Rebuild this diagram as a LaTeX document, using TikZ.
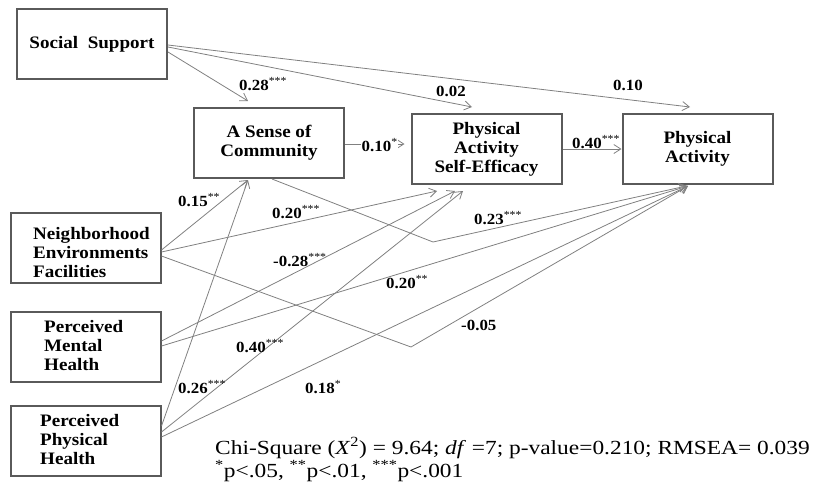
\documentclass[tikz,border=0pt]{standalone}
\usepackage{fontspec}
\setmainfont{Liberation Serif}[FakeStretch=1.09]
\newfontfamily\notefont{Liberation Serif}[FakeStretch=1.17]
\usetikzlibrary{arrows.meta,calc}
\definecolor{boxgray}{HTML}{5A5A5A}
\definecolor{linegray}{HTML}{808080}
\tikzset{
  box/.style={draw=boxgray, line width=2pt, minimum width=150pt, minimum height=70pt,
    inner sep=0pt, font=\fontsize{17.5}{19}\selectfont\bfseries, align=center},
  boxtext/.style={font=\fontsize{17.5}{19}\selectfont\bfseries, align=left, inner sep=0pt, anchor=west},
  arr/.style={draw=linegray, line width=0.8pt, -{Straight Barb[length=7pt,width=9pt]}},
  lbl/.style={font=\fontsize{15.5}{16}\selectfont\bfseries, inner sep=0pt, anchor=base west},
  note/.style={font=\notefont\fontsize{20}{22}\selectfont, inner sep=0pt, anchor=base west},
}
\newcommand{\stars}[1]{\textsuperscript{\mdseries #1}}
\begin{document}
\begin{tikzpicture}[x=1pt,y=-1pt]
\useasboundingbox (0,0) rectangle (823,485);
% boxes
\node[box] (ss) at (92,44) {Social\ \ Support};
\node[box] (asc) at (269,143) {A Sense of\\Community};
\node[box] (pase) at (486.5,149) {Physical\\Activity\\Self-Efficacy};
\node[box] (pa) at (697.5,149) {Physical\\Activity};
\node[box] (nef) at (85.5,248) {};
\node[boxtext] (neft) at (33,252.5) {Neighborhood\\Environments\\Facilities};
\node[box] (pmh) at (85.5,347) {};
\node[boxtext] (pmht) at (44,346) {Perceived\\Mental\\Health};
\node[box] (pph) at (85.5,440.5) {};
\node[boxtext] (ppht) at (40,439.5) {Perceived\\Physical\\Health};
% bend points
\coordinate (b1) at (433,242);
\coordinate (b2) at (411,347);
% connectors
\draw[arr] ($(ss.east)+(0,8)$) -- ($(asc.north)+(-21,-6)$);
\draw[arr] ($(ss.east)+(0,3)$) -- ($(pase.north)+(-14.5,-6)$);
\draw[arr] ($(ss.east)+(0,1)$) -- ($(pa.north)+(-7.5,-6)$);
\draw[arr] ($(asc.east)+(0,1)$) -- ($(pase.west)+(-6,-5)$);
\draw[arr] (pase.east) -- (pa.west);
\draw[arr] ($(asc.south)+(3,0)$) -- (b1) -- ($(pa.south)+(-11,1)$);
\draw[arr] ($(nef.east)+(0,2)$) -- ($(asc.south)+(-21,1)$);
\draw[arr] ($(nef.east)+(0,4)$) -- ($(pase.south)+(-49.5,6)$);
\draw[arr] ($(nef.east)+(0,8)$) -- (b2) -- ($(pa.south)+(-9.5,1)$);
\draw[arr] ($(pmh.east)+(0,-6)$) -- ($(pase.south)+(-31.5,6)$);
\draw[arr] ($(pmh.east)+(0,-1)$) -- ($(pa.south)+(-9.5,1)$);
\draw[arr] ($(pph.east)+(0,-14.5)$) -- ($(asc.south)+(-21,1)$);
\draw[arr] ($(pph.east)+(0,-8.5)$) -- ($(pase.south)+(-23.5,6)$);
\draw[arr] ($(pph.east)+(0,-3.5)$) -- ($(pa.south)+(-9.5,1)$);
% labels
\node[lbl] (l1) at (239,90) {0.28\stars{***}};
\node[lbl] (l2) at (436,96) {0.02};
\node[lbl] (l3) at (613,90.5) {0.10};
\node[lbl, fill=white, inner sep=0.5pt] (l4) at (361,151) {0.10\stars{*}};
\node[lbl] (l5) at (572,148) {0.40\stars{***}};
\node[lbl] (l6) at (178,206) {0.15\stars{**}};
\node[lbl] (l7) at (272,218) {0.20\stars{***}};
\node[lbl] (l8) at (273,266) {-0.28\stars{***}};
\node[lbl] (l9) at (386,288) {0.20\stars{**}};
\node[lbl] (l10) at (474,224) {0.23\stars{***}};
\node[lbl] (l11) at (461,330) {-0.05};
\node[lbl] (l12) at (236,352) {0.40\stars{***}};
\node[lbl] (l13) at (178,393) {0.26\stars{***}};
\node[lbl] (l14) at (305,393) {0.18\stars{*}};
% notes
\node[note] (n1) at (215,454) {Chi-Square (\textit{X}\textsuperscript{2}) = 9.64; \textit{df} =7; p-value=0.210; RMSEA= 0.039};
\node[note] (n2) at (215,477) {\textsuperscript{*}p<.05, \textsuperscript{**}p<.01, \textsuperscript{***}p<.001};
\end{tikzpicture}
\end{document}
